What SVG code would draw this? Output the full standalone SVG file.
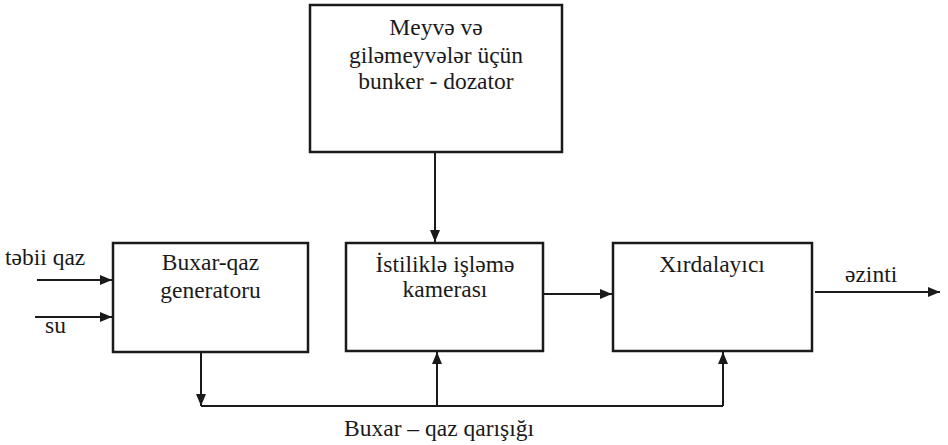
<svg xmlns="http://www.w3.org/2000/svg" width="948" height="445" viewBox="0 0 948 445">
<style>
.box{fill:#fff;stroke:#1a1a1a;stroke-width:2.5}
.ln{fill:none;stroke:#1a1a1a;stroke-width:2}
text{font-family:"Liberation Serif","Times New Roman",serif;font-size:23.5px;fill:#1a1a1a}
.c{text-anchor:middle}
</style>
<defs>
<marker id="ah" viewBox="0 0 12 10" refX="12" refY="5" markerWidth="12" markerHeight="10" markerUnits="userSpaceOnUse" orient="auto">
<path d="M0,0 L12,5 L0,10 Z" fill="#1a1a1a"/>
</marker>
</defs>
<rect width="948" height="445" fill="#fff"/>
<g id="connectors">
<line class="ln" x1="435" y1="152" x2="435" y2="242" marker-end="url(#ah)"/>
<line class="ln" x1="37" y1="280" x2="112" y2="280" marker-end="url(#ah)"/>
<line class="ln" x1="35" y1="317" x2="112" y2="317" marker-end="url(#ah)"/>
<line class="ln" x1="543" y1="294" x2="612" y2="294" marker-end="url(#ah)"/>
<line class="ln" x1="815" y1="292" x2="940" y2="292" marker-end="url(#ah)"/>
<line class="ln" x1="201" y1="352" x2="201" y2="406" marker-end="url(#ah)"/>
<polyline class="ln" points="201,406 723,406"/>
<line class="ln" x1="437" y1="406" x2="437" y2="352" marker-end="url(#ah)"/>
<line class="ln" x1="723" y1="406" x2="723" y2="352" marker-end="url(#ah)"/>
<text x="5" y="265">təbii qaz</text>
<text x="45" y="333">su</text>
<text x="845" y="282">əzinti</text>
<text x="439" y="436" class="c">Buxar – qaz qarışığı</text>
</g>
<g id="bunker">
<rect class="box" x="310" y="5" width="252" height="147"/>
<text class="c" x="436" y="35">Meyvə və</text>
<text class="c" x="436" y="63">giləmeyvələr üçün</text>
<text class="c" x="436" y="89">bunker - dozator</text>
</g>
<g id="generator">
<rect class="box" x="113" y="243" width="195" height="109"/>
<text class="c" x="210.5" y="270">Buxar-qaz</text>
<text class="c" x="210.5" y="298">generatoru</text>
</g>
<g id="kamera">
<rect class="box" x="346" y="243" width="197" height="108"/>
<text class="c" x="445" y="272">İstiliklə işləmə</text>
<text class="c" x="445" y="297">kamerası</text>
</g>
<g id="xirdalayici">
<rect class="box" x="613" y="243" width="199" height="108"/>
<text class="c" x="712" y="272">Xırdalayıcı</text>
</g>
</svg>
